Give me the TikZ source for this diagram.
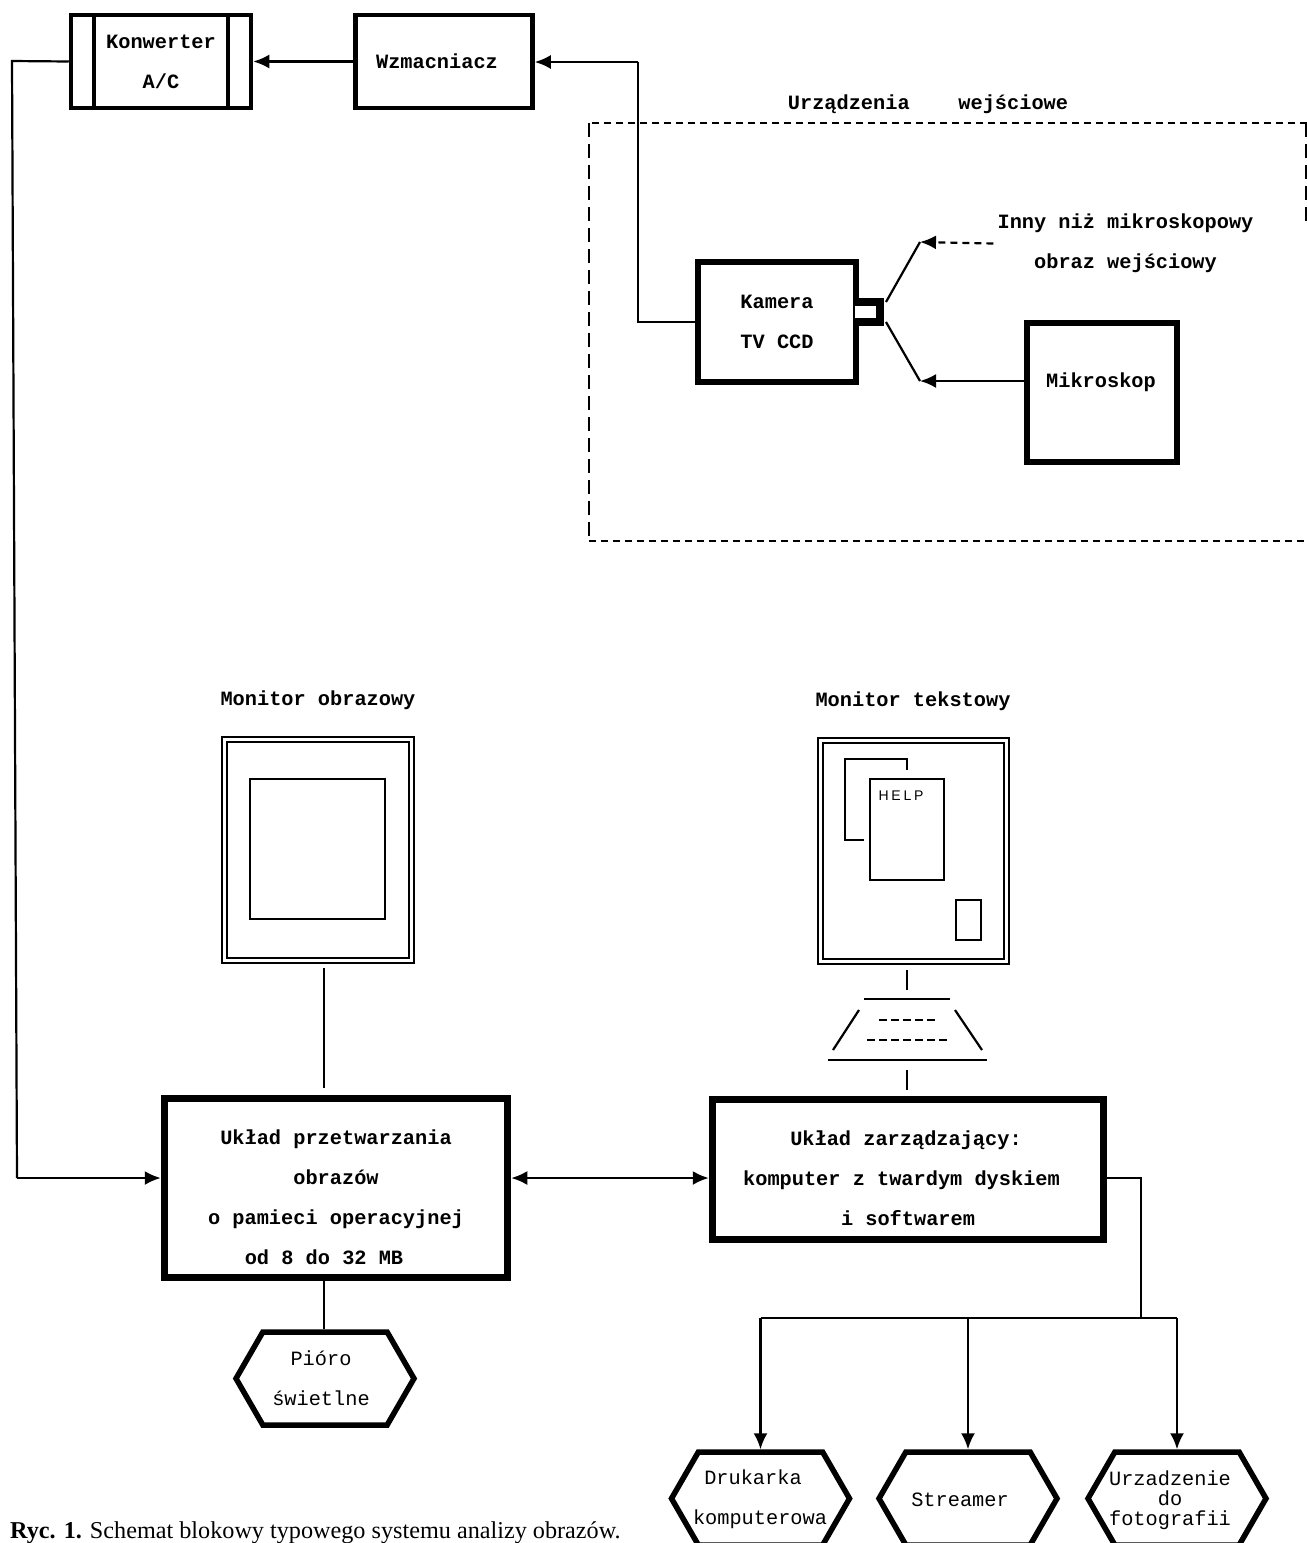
\documentclass[tikz,border=0pt]{standalone}
\usepackage{fontspec}
\setmainfont{Liberation Mono}
\newfontfamily\capfont{Liberation Serif}
\newfontfamily\helpfont[LetterSpace=20]{Liberation Sans}
\usetikzlibrary{positioning,arrows.meta,shapes.symbols}
\tikzstyle{block} = [draw, rectangle, line width=4.5pt, inner sep=0pt, align=center,
    font=\fontsize{20.3}{40}\selectfont\bfseries]
\tikzstyle{heavy} = [block, line width=6.5pt]
\tikzstyle{main} = [block, line width=7.5pt]
\tikzstyle{label} = [inner sep=0pt, align=center, font=\fontsize{20.3}{40}\selectfont\bfseries]
\tikzstyle{plain} = [inner sep=0pt, align=center, font=\fontsize{20.3}{40}\selectfont]
\tikzstyle{hexa} = [draw, signal, signal to=west and east, signal pointer angle=120,
    line width=5.5pt, inner sep=0pt, minimum width=178pt, minimum height=93pt]
\tikzstyle{frame} = [draw, rectangle, line width=2pt, inner sep=0pt]
\tikzstyle{wire} = [line width=2.2pt]
\begin{document}
\begin{tikzpicture}[x=1pt, y=-1pt, >={Latex[length=16pt,width=14pt]}]
	\useasboundingbox (0,0) rectangle (1307,1543);
	\node [block, minimum width=180pt, minimum height=93pt] (konw) at (161,61.5) {Konwerter\\A/C};
	\draw [line width=4.5pt] (94,13) -- (94,110);
	\draw [line width=4.5pt] (228,13) -- (228,110);
	\node [block, right=100pt of konw, minimum width=177pt, minimum height=93pt] (wzm) {};
	\node [label] (wzmtxt) at (437,61.5) {Wzmacniacz};
	\node [heavy, minimum width=158pt, minimum height=120pt] (kam) at (777,322) {Kamera\\TV CCD};
	\node [heavy, minimum width=150pt, minimum height=139pt] (mik) at (1102,392.5) {};
	\node [label] (miktxt) at (1101,382.5) {Mikroskop};
	\node [label] (wej) at (928,104.5) {Urządzenia~~~~wejściowe};
	\node [label] (inny) at (1125.5,243.5) {Inny niż mikroskopowy\\obraz wejściowy};
	\node [label] (monatxt) at (318,700.5) {Monitor obrazowy};
	\node [label] (monbtxt) at (913,701.5) {Monitor tekstowy};
	\node [frame, minimum width=192pt, minimum height=226pt] (mona) at (317.5,849.5) {};
	\node [frame, minimum width=182pt, minimum height=216pt] (monain) at (mona) {};
	\node [frame, minimum width=135pt, minimum height=140pt] (screen) at (317,848.5) {};
	\node [frame, minimum width=191pt, minimum height=226pt] (monb) at (913,850.5) {};
	\node [frame, minimum width=181pt, minimum height=216pt] (monbin) at (monb) {};
	\node [frame, minimum width=74pt, minimum height=101pt] (help) at (907,829.5) {};
	\node [inner sep=0pt, font=\fontsize{14}{14}\selectfont\helpfont] (helptxt) at (901,796) {HELP};
	\node [frame, minimum width=25pt, minimum height=40pt] (small) at (968.5,920) {};
	\node [main, minimum width=343pt, minimum height=179pt] (proc) at (336,1188) {};
	\node [label] (proctxt) at (336,1197.5) {Układ przetwarzania\\obrazów\\o pamieci operacyjnej\\od 8 do 32 MB\hspace*{24pt}};
	\node [main, minimum width=391pt, minimum height=140pt] (ster) at (908,1169.5) {};
	\node [label] (stertxt) at (901.5,1178.5) {\hspace*{9pt}Układ zarządzający:\\komputer z twardym dyskiem\\\hspace*{13pt}i softwarem};
	\node [hexa] (pioro) at (325,1378.5) {};
	\node [plain] (piorotxt) at (321,1378) {Pióro\\świetlne};
	\node [hexa] (druk) at (760.5,1498.5) {};
	\node [plain] (druktxt) at (760,1499.5) {Drukarka\hspace*{14pt}\\komputerowa};
	\node [hexa] (stream) at (968,1498.5) {};
	\node [plain] (streamtxt) at (960,1500) {Streamer};
	\node [hexa] (foto) at (1177,1498.5) {};
	\node [plain, font=\fontsize{20.3}{20}\selectfont] (fototxt) at (1170,1500) {Urzadzenie\\do\\fotografii};
	\node [anchor=west, inner sep=0pt, font=\fontsize{24.2}{24}\selectfont\capfont] (cap) at (10,1533) {\textbf{Ryc. 1.} Schemat blokowy typowego systemu analizy obrazów.};
	\coordinate (up) at (638,62);
	\coordinate (topl) at (12,61);
	\coordinate (botl) at (17,1178);
	\coordinate (joina) at (920,242);
	\coordinate (joinb) at (920,381);
	\coordinate (campa) at (886,302);
	\coordinate (campb) at (886,322);
	\coordinate (fork) at (1141,1318);
	\draw [wire,->] (up) -- (wzm.east |- up);
	\draw [wire] (kam.west) -| (up);
	\draw [wire,->] (wzm.west |- wzmtxt) -- (konw.east |- wzmtxt);
	\draw [wire] (konw.west) -- (topl) -- (botl);
	\draw [wire,->] (botl) -- (proc.west |- botl);
	\draw [wire,->] (mik.west |- joinb) -- (joinb);
	\draw [wire,dashed,dash pattern=on 7pt off 5pt,->] (inny.west) ++(-4,0) -- (joina);
	\draw [wire] (joina) -- (campa);
	\draw [wire] (joinb) -- (campb);
	\fill [white] (855,306) rectangle (862,318);
	\draw [line width=8pt] (856,302) -- (880,302) -- (880,322) -- (856,322);
	\draw [line width=2.2pt, dash pattern=on 7pt off 5pt] (1307,123) -- (589,123);
	\draw [line width=2.2pt, dash pattern=on 7pt off 5pt] (589,541) -- (1307,541);
	\draw [line width=2.2pt, dash pattern=on 14pt off 7pt] (589,123) -- (589,541);
	\draw [line width=2.2pt, dash pattern=on 14pt off 7pt] (1306,123) -- (1306,228);
	\draw [wire,shorten <=5pt,shorten >=7pt] (324,963) -- (proc.north -| 324,0);
	\draw [wire] (proc.south -| 324,0) -- (pioro.north -| 324,0);
	\draw [wire,<->] (proc.east |- botl) -- (ster.west |- botl);
	\draw [wire] (ster.east |- botl) -| (fork);
	\draw [wire] (druk.north |- fork) -- (foto.north |- fork);
	\draw [wire,->] (druk.north |- fork) -- (druk.north);
	\draw [wire,->] (stream.north |- fork) -- (stream.north);
	\draw [wire,->] (foto.north |- fork) -- (foto.north);
	\draw [line width=2pt] (907,770) -- (907,759) -- (845,759) -- (845,840) -- (864,840);
	\draw [wire] (907,970) -- (907,990);
	\draw [wire] (864,999) -- (950,999);
	\draw [wire] (859,1010) -- (833,1050);
	\draw [wire] (955,1010) -- (982,1050);
	\draw [wire] (828,1060) -- (987,1060);
	\draw [wire,dash pattern=on 8pt off 4pt] (879,1020) -- (937,1020);
	\draw [wire,dash pattern=on 8pt off 4pt] (867,1040) -- (948,1040);
	\draw [wire] (907,1070) -- (907,1090);
\end{tikzpicture}
\end{document}
